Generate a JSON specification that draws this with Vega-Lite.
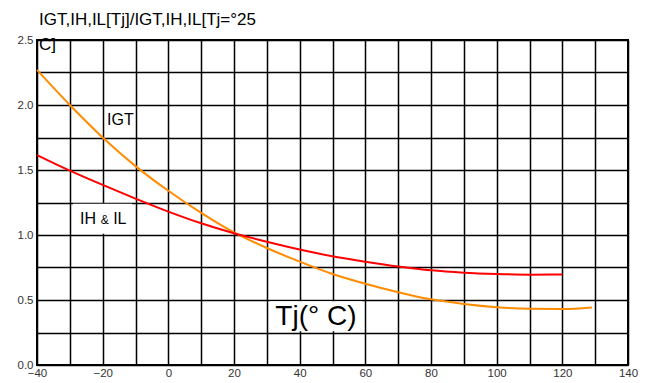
{
  "$schema": "https://vega.github.io/schema/vega-lite/v6.json",
  "width": 591,
  "height": 325,
  "autosize": "none",
  "padding": {"left": 37, "top": 40, "right": 25, "bottom": 18},
  "background": "white",
  "config": {
    "view": {"stroke": "black", "strokeWidth": 2},
    "font": "Liberation Sans",
    "axis": {
      "grid": true,
      "gridColor": "black",
      "gridWidth": 1.5,
      "gridOpacity": 1,
      "domain": false,
      "ticks": false,
      "labelFont": "Liberation Sans",
      "labelFontSize": 11.5,
      "labelColor": "#333",
      "titleOpacity": 0
    }
  },
  "datasets": {
    "curves": [
      {"series": "IGT", "tj": -40, "ratio": 2.27},
      {"series": "IGT", "tj": -30, "ratio": 2.0},
      {"series": "IGT", "tj": -20, "ratio": 1.75},
      {"series": "IGT", "tj": -10, "ratio": 1.53},
      {"series": "IGT", "tj": 0, "ratio": 1.34},
      {"series": "IGT", "tj": 10, "ratio": 1.17},
      {"series": "IGT", "tj": 20, "ratio": 1.02},
      {"series": "IGT", "tj": 30, "ratio": 0.9},
      {"series": "IGT", "tj": 40, "ratio": 0.795},
      {"series": "IGT", "tj": 50, "ratio": 0.7},
      {"series": "IGT", "tj": 60, "ratio": 0.625},
      {"series": "IGT", "tj": 70, "ratio": 0.56},
      {"series": "IGT", "tj": 80, "ratio": 0.505},
      {"series": "IGT", "tj": 90, "ratio": 0.47},
      {"series": "IGT", "tj": 100, "ratio": 0.445},
      {"series": "IGT", "tj": 110, "ratio": 0.432},
      {"series": "IGT", "tj": 120, "ratio": 0.43},
      {"series": "IGT", "tj": 129, "ratio": 0.442},
      {"series": "IH & IL", "tj": -40, "ratio": 1.615},
      {"series": "IH & IL", "tj": -30, "ratio": 1.495},
      {"series": "IH & IL", "tj": -20, "ratio": 1.385},
      {"series": "IH & IL", "tj": -10, "ratio": 1.28},
      {"series": "IH & IL", "tj": 0, "ratio": 1.18},
      {"series": "IH & IL", "tj": 10, "ratio": 1.09},
      {"series": "IH & IL", "tj": 20, "ratio": 1.013},
      {"series": "IH & IL", "tj": 30, "ratio": 0.948},
      {"series": "IH & IL", "tj": 40, "ratio": 0.888},
      {"series": "IH & IL", "tj": 50, "ratio": 0.836},
      {"series": "IH & IL", "tj": 60, "ratio": 0.795},
      {"series": "IH & IL", "tj": 70, "ratio": 0.758},
      {"series": "IH & IL", "tj": 80, "ratio": 0.728},
      {"series": "IH & IL", "tj": 90, "ratio": 0.71},
      {"series": "IH & IL", "tj": 100, "ratio": 0.7},
      {"series": "IH & IL", "tj": 110, "ratio": 0.695},
      {"series": "IH & IL", "tj": 120, "ratio": 0.697}
    ],
    "one": [{}]
  },
  "layer": [
    {
      "data": {"name": "curves"},
      "mark": {"type": "line", "strokeWidth": 2, "interpolate": "monotone"},
      "encoding": {
        "x": {
          "field": "tj", "type": "quantitative", "title": null,
          "scale": {"domain": [-40, 140], "nice": false, "zero": false},
          "axis": {"values": [-40, -30, -20, -10, 0, 10, 20, 30, 40, 50, 60, 70, 80, 90, 100, 110, 120, 130, 140], "labelExpr": "datum.value % 20 === 0 ? datum.label : ''", "labelPadding": 2, "labelFlush": false, "labelOverlap": false}
        },
        "y": {
          "field": "ratio", "type": "quantitative", "title": null,
          "scale": {"domain": [0, 2.5], "nice": false},
          "axis": {"values": [0, 0.25, 0.5, 0.75, 1, 1.25, 1.5, 1.75, 2, 2.25, 2.5], "labelExpr": "(datum.value * 4) % 2 === 0 ? format(datum.value, '.1f') : ''", "labelPadding": 4, "labelOverlap": false}
        },
        "color": {
          "field": "series", "type": "nominal", "legend": null,
          "scale": {"domain": ["IGT", "IH & IL"], "range": ["#ff8c00", "#ff0000"]}
        }
      }
    },
    {
      "data": {"name": "one"},
      "mark": {"type": "rect", "color": "white"},
      "encoding": {
        "x": {"datum": 31, "type": "quantitative", "title": null, "axis": {"values": [-40, -30, -20, -10, 0, 10, 20, 30, 40, 50, 60, 70, 80, 90, 100, 110, 120, 130, 140], "labelExpr": "datum.value % 20 === 0 ? datum.label : ''", "labelPadding": 2, "labelFlush": false, "labelOverlap": false}},
        "x2": {"datum": 59},
        "y": {"datum": 0.26, "type": "quantitative", "title": null, "axis": {"values": [0, 0.25, 0.5, 0.75, 1, 1.25, 1.5, 1.75, 2, 2.25, 2.5], "labelExpr": "(datum.value * 4) % 2 === 0 ? format(datum.value, '.1f') : ''", "labelPadding": 4, "labelOverlap": false}},
        "y2": {"datum": 0.49}
      }
    },
    {
      "data": {"name": "one"},
      "mark": {"type": "rect", "color": "white"},
      "encoding": {
        "x": {"datum": -29, "type": "quantitative", "title": null, "axis": {"values": [-40, -30, -20, -10, 0, 10, 20, 30, 40, 50, 60, 70, 80, 90, 100, 110, 120, 130, 140], "labelExpr": "datum.value % 20 === 0 ? datum.label : ''", "labelPadding": 2, "labelFlush": false, "labelOverlap": false}},
        "x2": {"datum": -11},
        "y": {"datum": 1.01, "type": "quantitative", "title": null, "axis": {"values": [0, 0.25, 0.5, 0.75, 1, 1.25, 1.5, 1.75, 2, 2.25, 2.5], "labelExpr": "(datum.value * 4) % 2 === 0 ? format(datum.value, '.1f') : ''", "labelPadding": 4, "labelOverlap": false}},
        "y2": {"datum": 1.24}
      }
    },
    {
      "data": {"name": "one"},
      "mark": {"type": "text", "fontSize": 16, "align": "center", "baseline": "alphabetic", "color": "black"},
      "encoding": {
        "x": {"datum": -14.6, "type": "quantitative", "title": null, "axis": {"values": [-40, -30, -20, -10, 0, 10, 20, 30, 40, 50, 60, 70, 80, 90, 100, 110, 120, 130, 140], "labelExpr": "datum.value % 20 === 0 ? datum.label : ''", "labelPadding": 2, "labelFlush": false, "labelOverlap": false}},
        "y": {"datum": 1.846, "type": "quantitative", "title": null, "axis": {"values": [0, 0.25, 0.5, 0.75, 1, 1.25, 1.5, 1.75, 2, 2.25, 2.5], "labelExpr": "(datum.value * 4) % 2 === 0 ? format(datum.value, '.1f') : ''", "labelPadding": 4, "labelOverlap": false}},
        "text": {"value": "IGT"}
      }
    },
    {
      "data": {"name": "one"},
      "mark": {"type": "text", "fontSize": 16, "align": "left", "baseline": "alphabetic", "color": "black"},
      "encoding": {
        "x": {"datum": -26.9, "type": "quantitative", "title": null, "axis": {"values": [-40, -30, -20, -10, 0, 10, 20, 30, 40, 50, 60, 70, 80, 90, 100, 110, 120, 130, 140], "labelExpr": "datum.value % 20 === 0 ? datum.label : ''", "labelPadding": 2, "labelFlush": false, "labelOverlap": false}},
        "y": {"datum": 1.082, "type": "quantitative", "title": null, "axis": {"values": [0, 0.25, 0.5, 0.75, 1, 1.25, 1.5, 1.75, 2, 2.25, 2.5], "labelExpr": "(datum.value * 4) % 2 === 0 ? format(datum.value, '.1f') : ''", "labelPadding": 4, "labelOverlap": false}},
        "text": {"value": "IH"}
      }
    },
    {
      "data": {"name": "one"},
      "mark": {"type": "text", "fontSize": 12, "align": "left", "baseline": "alphabetic", "color": "black"},
      "encoding": {
        "x": {"datum": -20.6, "type": "quantitative", "title": null, "axis": {"values": [-40, -30, -20, -10, 0, 10, 20, 30, 40, 50, 60, 70, 80, 90, 100, 110, 120, 130, 140], "labelExpr": "datum.value % 20 === 0 ? datum.label : ''", "labelPadding": 2, "labelFlush": false, "labelOverlap": false}},
        "y": {"datum": 1.082, "type": "quantitative", "title": null, "axis": {"values": [0, 0.25, 0.5, 0.75, 1, 1.25, 1.5, 1.75, 2, 2.25, 2.5], "labelExpr": "(datum.value * 4) % 2 === 0 ? format(datum.value, '.1f') : ''", "labelPadding": 4, "labelOverlap": false}},
        "text": {"value": "&"}
      }
    },
    {
      "data": {"name": "one"},
      "mark": {"type": "text", "fontSize": 16, "align": "left", "baseline": "alphabetic", "color": "black"},
      "encoding": {
        "x": {"datum": -16.8, "type": "quantitative", "title": null, "axis": {"values": [-40, -30, -20, -10, 0, 10, 20, 30, 40, 50, 60, 70, 80, 90, 100, 110, 120, 130, 140], "labelExpr": "datum.value % 20 === 0 ? datum.label : ''", "labelPadding": 2, "labelFlush": false, "labelOverlap": false}},
        "y": {"datum": 1.082, "type": "quantitative", "title": null, "axis": {"values": [0, 0.25, 0.5, 0.75, 1, 1.25, 1.5, 1.75, 2, 2.25, 2.5], "labelExpr": "(datum.value * 4) % 2 === 0 ? format(datum.value, '.1f') : ''", "labelPadding": 4, "labelOverlap": false}},
        "text": {"value": "IL"}
      }
    },
    {
      "data": {"name": "one"},
      "mark": {"type": "text", "fontSize": 28, "align": "left", "baseline": "alphabetic", "color": "black"},
      "encoding": {
        "x": {"datum": 32.6, "type": "quantitative", "title": null, "axis": {"values": [-40, -30, -20, -10, 0, 10, 20, 30, 40, 50, 60, 70, 80, 90, 100, 110, 120, 130, 140], "labelExpr": "datum.value % 20 === 0 ? datum.label : ''", "labelPadding": 2, "labelFlush": false, "labelOverlap": false}},
        "y": {"datum": 0.308, "type": "quantitative", "title": null, "axis": {"values": [0, 0.25, 0.5, 0.75, 1, 1.25, 1.5, 1.75, 2, 2.25, 2.5], "labelExpr": "(datum.value * 4) % 2 === 0 ? format(datum.value, '.1f') : ''", "labelPadding": 4, "labelOverlap": false}},
        "text": {"value": "Tj(° C)"}
      }
    },
    {
      "data": {"name": "one"},
      "mark": {"type": "text", "fontSize": 17, "align": "left", "baseline": "alphabetic", "color": "black", "dx": 2},
      "encoding": {
        "x": {"datum": -40, "type": "quantitative", "title": null, "axis": {"values": [-40, -30, -20, -10, 0, 10, 20, 30, 40, 50, 60, 70, 80, 90, 100, 110, 120, 130, 140], "labelExpr": "datum.value % 20 === 0 ? datum.label : ''", "labelPadding": 2, "labelFlush": false, "labelOverlap": false}},
        "y": {"datum": 2.615, "type": "quantitative", "title": null, "axis": {"values": [0, 0.25, 0.5, 0.75, 1, 1.25, 1.5, 1.75, 2, 2.25, 2.5], "labelExpr": "(datum.value * 4) % 2 === 0 ? format(datum.value, '.1f') : ''", "labelPadding": 4, "labelOverlap": false}},
        "text": {"value": "IGT,IH,IL[Tj]/IGT,IH,IL[Tj=°25"}
      }
    },
    {
      "data": {"name": "one"},
      "mark": {"type": "text", "fontSize": 17, "align": "left", "baseline": "alphabetic", "color": "black", "dx": 2},
      "encoding": {
        "x": {"datum": -40, "type": "quantitative", "title": null, "axis": {"values": [-40, -30, -20, -10, 0, 10, 20, 30, 40, 50, 60, 70, 80, 90, 100, 110, 120, 130, 140], "labelExpr": "datum.value % 20 === 0 ? datum.label : ''", "labelPadding": 2, "labelFlush": false, "labelOverlap": false}},
        "y": {"datum": 2.423, "type": "quantitative", "title": null, "axis": {"values": [0, 0.25, 0.5, 0.75, 1, 1.25, 1.5, 1.75, 2, 2.25, 2.5], "labelExpr": "(datum.value * 4) % 2 === 0 ? format(datum.value, '.1f') : ''", "labelPadding": 4, "labelOverlap": false}},
        "text": {"value": "C]"}
      }
    }
  ]
}
